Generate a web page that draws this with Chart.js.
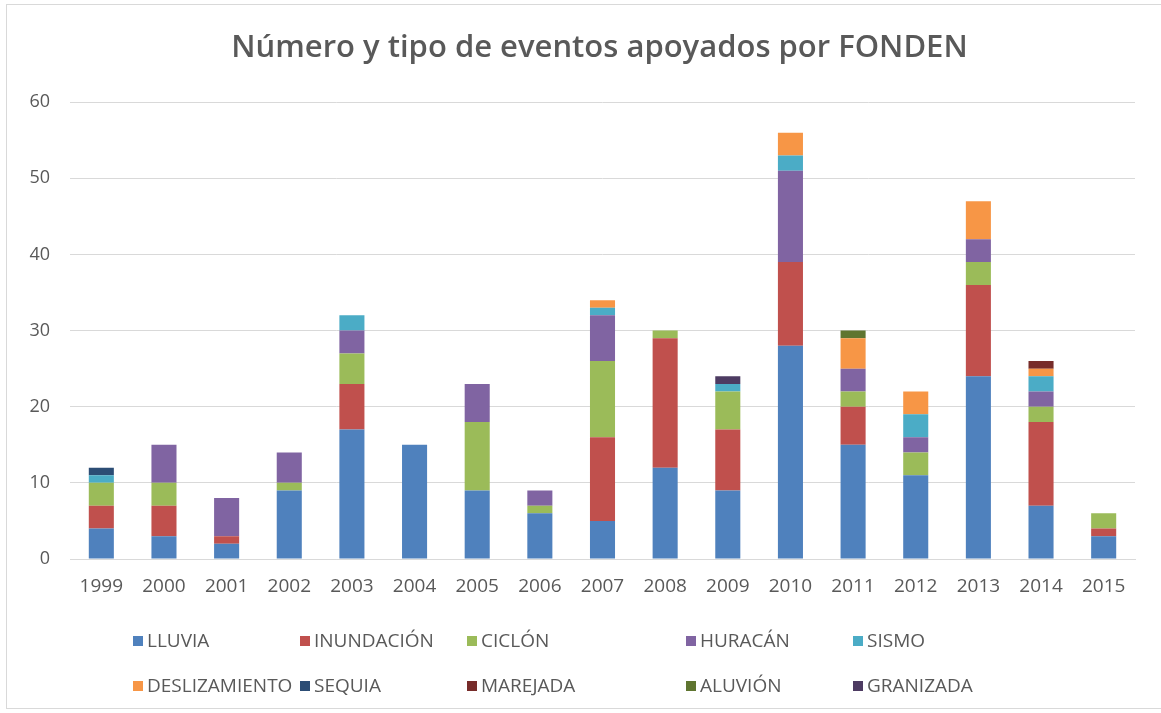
<!DOCTYPE html>
<html lang="es">
<head>
<meta charset="UTF-8">
<title>Número y tipo de eventos apoyados por FONDEN</title>
<script src="https://cdn.jsdelivr.net/npm/chart.js"></script>
<style>
    body { margin: 0; background: #fff; }
    .wrap { position: relative; width: 1161px; height: 713px; overflow: hidden; }
    .frame { position: absolute; left: 6px; top: 4px; width: 1170px; height: 705px; border: 1px solid #d9d9d9; box-sizing: border-box; }
    canvas { position: absolute; left: 0; top: 0; }
    .legend-item { position: absolute; font-family: "Open Sans", sans-serif; font-size: 19px; color: #595959; white-space: nowrap; line-height: 20px; }
    .legend-item span.box { display: inline-block; width: 10px; height: 10px; margin-right: 4px; vertical-align: 1px; }
</style>
</head>
<body>
<div class="wrap">
    <div class="frame"></div>
    <canvas id="chart" width="1161" height="713"></canvas>
    <div id="legend"></div>
</div>
<script>
    // años
    const years = ['1999', '2000', '2001', '2002', '2003', '2004', '2005', '2006', '2007',
        '2008', '2009', '2010', '2011', '2012', '2013', '2014', '2015'];

    // eventos por tipo
    const lluvia        = [4, 3, 2, 9, 17, 15, 9, 6, 5, 12, 9, 28, 15, 11, 24, 7, 3];
    const inundacion    = [3, 4, 1, 0, 6, 0, 0, 0, 11, 17, 8, 11, 5, 0, 12, 11, 1];
    const ciclon        = [3, 3, 0, 1, 4, 0, 9, 1, 10, 1, 5, 0, 2, 3, 3, 2, 2];
    const huracan       = [0, 5, 5, 4, 3, 0, 5, 2, 6, 0, 0, 12, 3, 2, 3, 2, 0];
    const sismo         = [1, 0, 0, 0, 2, 0, 0, 0, 1, 0, 1, 2, 0, 3, 0, 2, 0];
    const deslizamiento = [0, 0, 0, 0, 0, 0, 0, 0, 1, 0, 0, 3, 4, 3, 5, 1, 0];
    const sequia        = [1, 0, 0, 0, 0, 0, 0, 0, 0, 0, 0, 0, 0, 0, 0, 0, 0];
    const marejada      = [0, 0, 0, 0, 0, 0, 0, 0, 0, 0, 0, 0, 0, 0, 0, 1, 0];
    const aluvion       = [0, 0, 0, 0, 0, 0, 0, 0, 0, 0, 0, 0, 1, 0, 0, 0, 0];
    const granizada     = [0, 0, 0, 0, 0, 0, 0, 0, 0, 0, 1, 0, 0, 0, 0, 0, 0];

    const seriesNames = ['LLUVIA', 'INUNDACIÓN', 'CICLÓN', 'HURACÁN', 'SISMO',
        'DESLIZAMIENTO', 'SEQUIA', 'MAREJADA', 'ALUVIÓN', 'GRANIZADA'];
    const seriesData = [lluvia, inundacion, ciclon, huracan, sismo,
        deslizamiento, sequia, marejada, aluvion, granizada];
    const colors = ['#4F81BD', '#C0504D', '#9BBB59', '#8064A2', '#4BACC6',
        '#F79646', '#2C4D75', '#772C2A', '#5F7530', '#4D3B62'];

    const yTicks = [0, 10, 20, 30, 40, 50, 60];

    // posiciones de la leyenda (columnas tipo Excel)
    const legendCols = [133, 300, 467, 686, 853];
    const legendRows = [630, 675];

    const datasets = seriesNames.map((name, i) => ({
        label: name,
        data: seriesData[i],
        backgroundColor: colors[i],
        borderWidth: 0,
        barPercentage: 0.4,
        categoryPercentage: 1
    }));

    // el título en Excel queda centrado en todo el gráfico, no en el área
    const shiftTitle = {
        id: 'shiftTitle',
        afterLayout(chart) {
            if (chart.titleBlock) {
                chart.titleBlock.left += 32;
                chart.titleBlock.right += 32;
            }
        }
    };

    new Chart(document.getElementById('chart'), {
        type: 'bar',
        data: { labels: years, datasets: datasets },
        plugins: [shiftTitle],
        options: {
            responsive: false,
            animation: false,
            layout: { padding: { left: 0, right: 26, top: 27, bottom: 114 } },
            plugins: {
                legend: { display: false },
                tooltip: { enabled: false },
                title: {
                    display: true,
                    text: 'Número y tipo de eventos apoyados por FONDEN',
                    color: '#595959',
                    font: { family: 'Open Sans', size: 31, weight: '600' },
                    padding: { top: 3, bottom: 35 }
                }
            },
            scales: {
                x: {
                    stacked: true,
                    grid: { display: false },
                    border: { color: '#d9d9d9' },
                    ticks: { color: '#595959', font: { family: 'Open Sans', size: 19 }, padding: 8, maxRotation: 0 },
                    afterFit: s => { s.height = 40; }
                },
                y: {
                    stacked: true,
                    min: yTicks[0],
                    max: yTicks[yTicks.length - 1],
                    afterBuildTicks: s => { s.ticks = yTicks.map(v => ({ value: v })); },
                    grid: { color: '#d9d9d9', drawTicks: false },
                    border: { display: false },
                    ticks: { color: '#595959', font: { family: 'Open Sans', size: 18 }, padding: 20 },
                    afterFit: s => { s.width = 70; }
                }
            }
        }
    });

    // leyenda en HTML
    const legend = document.getElementById('legend');
    seriesNames.forEach((name, i) => {
        const item = document.createElement('div');
        item.className = 'legend-item';
        item.style.left = legendCols[i % 5] + 'px';
        item.style.top = legendRows[Math.floor(i / 5)] + 'px';
        item.innerHTML = `<span class="box" style="background:${colors[i]}"></span>${name}`;
        legend.appendChild(item);
    });
</script>
</body>
</html>
